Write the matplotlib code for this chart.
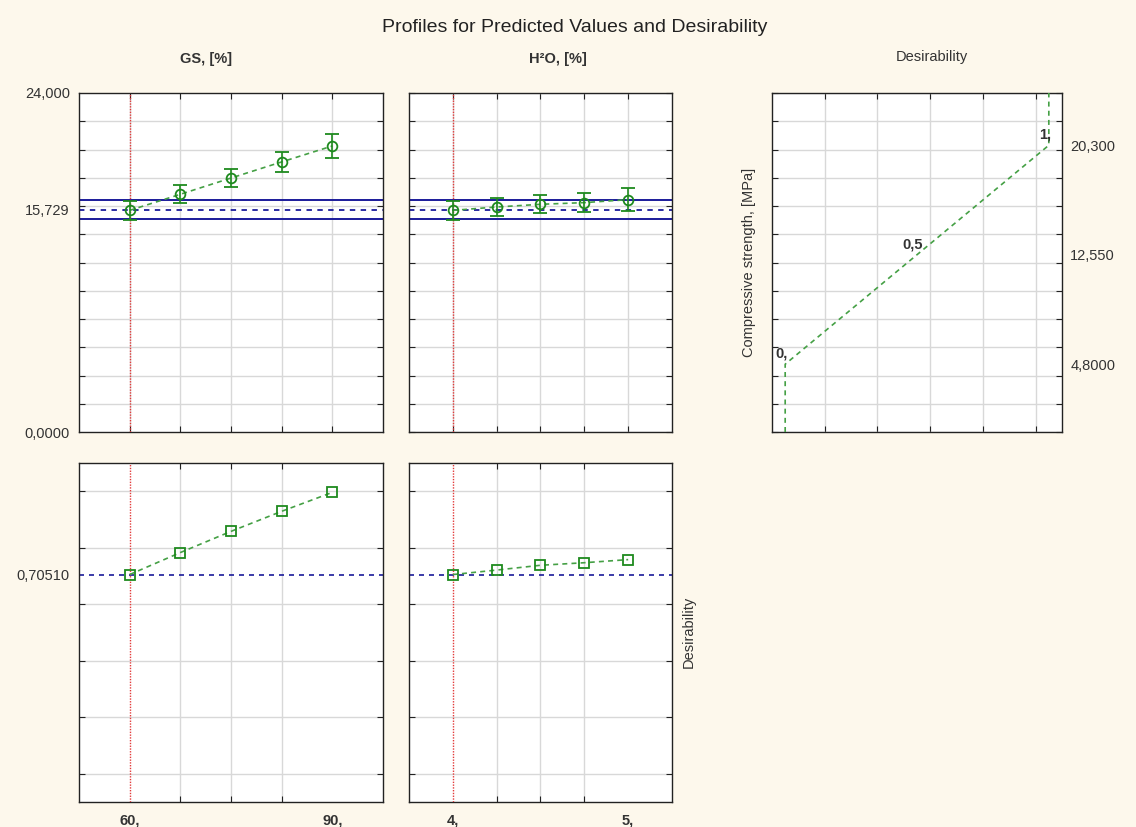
import matplotlib.pyplot as plt

plt.rcParams['font.family'] = ['Liberation Sans', 'DejaVu Sans']

# factor levels of the profiles
gs_levels = [60, 67.5, 75, 82.5, 90]
h2o_levels = [4, 4.25, 4.5, 4.75, 5]

# predicted compressive strength [MPa] with confidence half-widths
gs_pred = [15.69, 16.83, 17.98, 19.12, 20.25]
gs_err = [0.66, 0.64, 0.63, 0.73, 0.83]
h2o_pred = [15.69, 15.93, 16.12, 16.24, 16.45]
h2o_err = [0.66, 0.66, 0.64, 0.68, 0.83]

# desirability at each factor level
gs_desir = [0.7051, 0.783, 0.858, 0.929, 0.996]
h2o_desir = [0.7051, 0.721, 0.738, 0.747, 0.758]

# current point
current_gs = 60
current_h2o = 4
current_pred = 15.729
pred_ci = [15.06, 16.40]
current_desir = 0.70510

# desirability function of compressive strength
desir_levels = [0.0, 0.5, 1.0]
desir_strength = [4.8, 12.55, 20.3]
desir_point_labels = ['0,', '0,5', '1,']

# axis tick labels
strength_ticks = [0, 15.729, 24]
strength_labels = ['0,0000', '15,729', '24,000']
desir_ticks = [0.70510]
desir_labels = ['0,70510']
gs_ticks = [60, 90]
gs_labels = ['60,', '90,']
h2o_ticks = [4, 5]
h2o_labels = ['4,', '5,']
right_ticks = [4.8, 12.55, 20.3]
right_labels = ['4,8000', '12,550', '20,300']

BG = '#fdf8ec'
GREEN = '#1e8a1e'
GREEN_LINE = '#45a045'
BLUE = '#1a1a9a'
RED = '#e23a3a'
GRID = '#d8d8d8'
TEXT = '#333333'
FS = 10.5

W, H = 1136, 827
fig = plt.figure(figsize=(W / 100, H / 100), dpi=100, facecolor=BG)


def box(left, top, right, bottom):
    return [left / W, 1 - bottom / H, (right - left) / W, (bottom - top) / H]


def style(ax, xlim, ylim, xgrid, ygrid):
    ax.set_facecolor('white')
    ax.set_xlim(xlim)
    ax.set_ylim(ylim)
    ax.set_xticks(xgrid, minor=True)
    ax.set_yticks(ygrid, minor=True)
    ax.set_xticks([])
    ax.set_yticks([])
    ax.grid(True, which='minor', color=GRID, lw=1.0, zorder=0)
    ax.tick_params(which='minor', direction='in', length=4, width=0.8,
                   top=True, bottom=True, left=True, right=True, color='#222222')
    ax.tick_params(which='major', length=0, labelsize=FS, labelcolor=TEXT)
    for s in ax.spines.values():
        s.set_color('#222222')
        s.set_linewidth(1.0)
    ax.set_axisbelow(True)


strength_grid = list(range(0, 25, 2))
desir_grid = [0.0, 0.2, 0.4, 0.6, 0.8, 1.0]
gs_lim = (52.5, 97.5)
h2o_lim = (3.75, 5.25)
strength_lim = (0, 24)
desir_lim = (-0.1, 1.1)

ax_gs = fig.add_axes(box(79, 93, 383, 432))
ax_h2o = fig.add_axes(box(409, 93, 672, 432))
ax_dfun = fig.add_axes(box(772, 93, 1062, 432))
ax_gs_d = fig.add_axes(box(79, 463, 383, 802))
ax_h2o_d = fig.add_axes(box(409, 463, 672, 802))

style(ax_gs, gs_lim, strength_lim, gs_levels, strength_grid)
style(ax_h2o, h2o_lim, strength_lim, h2o_levels, strength_grid)
style(ax_gs_d, gs_lim, desir_lim, gs_levels, desir_grid)
style(ax_h2o_d, h2o_lim, desir_lim, h2o_levels, desir_grid)
style(ax_dfun, (-0.05, 1.05), strength_lim, [0.15, 0.35, 0.55, 0.75, 0.95], strength_grid)

# predicted value profiles
for ax, lev, pred, err, cur in [(ax_gs, gs_levels, gs_pred, gs_err, current_gs),
                                (ax_h2o, h2o_levels, h2o_pred, h2o_err, current_h2o)]:
    for v in pred_ci:
        ax.axhline(v, color=BLUE, lw=1.4, zorder=2)
    ax.axhline(current_pred, color=BLUE, lw=1.3, ls=(0, (3, 3)), zorder=2)
    ax.axvline(cur, color=RED, lw=1.0, ls=(0, (1, 1)), zorder=3)
    ax.plot(lev, pred, color=GREEN_LINE, lw=1.2, ls=(0, (3, 2.5)), zorder=4)
    ax.errorbar(lev, pred, yerr=err, fmt='o', ms=7, mfc='none', mec=GREEN, mew=1.3,
                ecolor=GREEN, elinewidth=1.2, capsize=5, capthick=1.2, zorder=5)

# desirability profiles
for ax, lev, des, cur in [(ax_gs_d, gs_levels, gs_desir, current_gs),
                          (ax_h2o_d, h2o_levels, h2o_desir, current_h2o)]:
    ax.axhline(current_desir, color=BLUE, lw=1.2, ls=(0, (3, 3)), zorder=2)
    ax.axvline(cur, color=RED, lw=1.0, ls=(0, (1, 1)), zorder=3)
    ax.plot(lev, des, color=GREEN_LINE, lw=1.2, ls=(0, (3, 2.5)), marker='s', ms=7,
            mfc='none', mec=GREEN, mew=1.3, zorder=4)

# tick labels
ax_gs.set_yticks(strength_ticks, strength_labels)
ax_gs_d.set_yticks(desir_ticks, desir_labels)
ax_gs_d.set_xticks(gs_ticks, gs_labels, fontweight='bold')
ax_h2o_d.set_xticks(h2o_ticks, h2o_labels, fontweight='bold')
for ax in (ax_gs, ax_gs_d):
    ax.tick_params(axis='y', which='major', pad=6.5)
for ax in (ax_gs_d, ax_h2o_d):
    ax.tick_params(axis='x', which='major', pad=8)

# desirability function panel
curve_x = [desir_levels[0]] + desir_levels + [desir_levels[-1]]
curve_y = [strength_lim[0]] + desir_strength + [strength_lim[1]]
ax_dfun.plot(curve_x, curve_y, color=GREEN_LINE, lw=1.2, ls=(0, (3, 2.5)), zorder=4)
for d, s, lab in zip(desir_levels, desir_strength, desir_point_labels):
    ax_dfun.text(d - 0.015, s + 0.75, lab, ha='center', va='center', fontsize=FS,
                 fontweight='bold', color=TEXT, zorder=5)
ax_dfun.yaxis.tick_right()
ax_dfun.set_yticks(right_ticks, right_labels)
ax_dfun.tick_params(axis='y', which='major', pad=6, labelright=True, labelleft=False)
ax_dfun.tick_params(which='minor', left=True, right=True)

# headings and side labels
fig.text(575 / W, 1 - 27 / H, 'Profiles for Predicted Values and Desirability',
         ha='center', va='center', fontsize=14, color='#222222')
fig.text(206 / W, 1 - 59 / H, 'GS, [%]', ha='center', va='center', fontsize=FS,
         fontweight='bold', color=TEXT)
fig.text(558 / W, 1 - 59 / H, 'H²O, [%]', ha='center', va='center', fontsize=FS,
         fontweight='bold', color=TEXT)
fig.text(932 / W, 1 - 57 / H, 'Desirability', ha='center', va='center', fontsize=FS,
         color=TEXT)
fig.text(749 / W, 1 - 262 / H, 'Compressive strength, [MPa]', ha='center', va='center',
         rotation=90, fontsize=FS, color=TEXT)
fig.text(689 / W, 1 - 632 / H, 'Desirability', ha='center', va='center',
         rotation=90, fontsize=FS, color=TEXT)

fig.savefig('out.png', dpi=100, facecolor=BG)
